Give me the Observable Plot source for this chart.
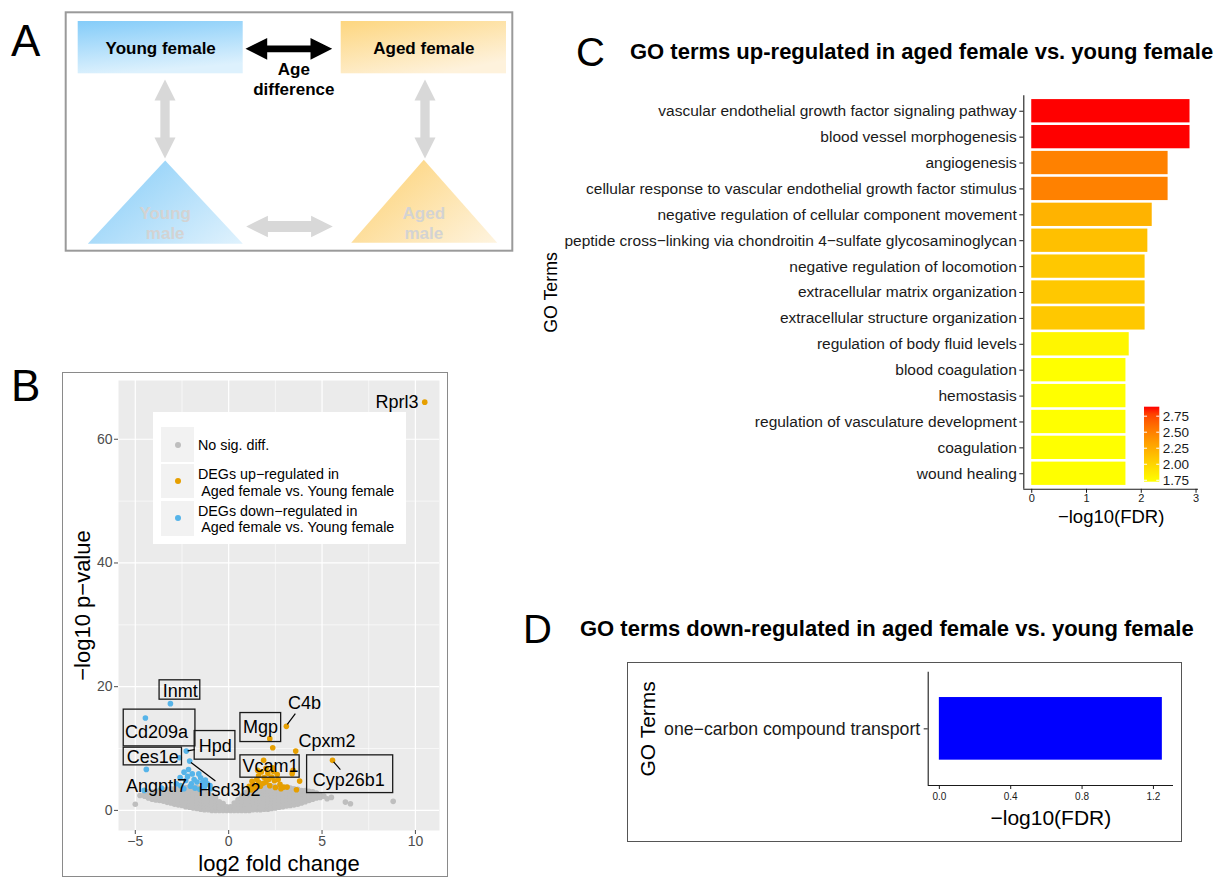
<!DOCTYPE html>
<html><head><meta charset="utf-8">
<script src="https://cdn.jsdelivr.net/npm/d3@7"></script>
<script src="https://cdn.jsdelivr.net/npm/@observablehq/plot@0.6"></script>
<style>
body{margin:0;background:#fff;}
#root{position:relative;width:1222px;height:878px;overflow:hidden;font-family:"Liberation Sans",Arial,sans-serif;color:#000;}
.letter{position:absolute;line-height:1;color:#000;}
.title{position:absolute;font-size:22px;font-weight:bold;line-height:22px;white-space:nowrap;}
.lg{position:absolute;font-size:14.3px;line-height:16.7px;white-space:pre;color:#000;}
.key{position:absolute;left:8px;width:33px;background:#F2F2F2;}
.key i{position:absolute;left:13.5px;width:6px;height:6px;border-radius:50%;}
</style></head><body><div id="root"></div>
<script>
// ---------------- DATA ----------------
// Panel C: GO terms up-regulated
const upTerms = [
 "vascular endothelial growth factor signaling pathway",
 "blood vessel morphogenesis",
 "angiogenesis",
 "cellular response to vascular endothelial growth factor stimulus",
 "negative regulation of cellular component movement",
 "peptide cross\u2212linking via chondroitin 4\u2212sulfate glycosaminoglycan",
 "negative regulation of locomotion",
 "extracellular matrix organization",
 "extracellular structure organization",
 "regulation of body fluid levels",
 "blood coagulation",
 "hemostasis",
 "regulation of vasculature development",
 "coagulation",
 "wound healing"];
const upFDR = [2.89, 2.89, 2.49, 2.49, 2.20, 2.12, 2.07, 2.07, 2.07, 1.78, 1.72, 1.72, 1.72, 1.72, 1.72];
const upXTicks = [0, 1, 2, 3];
const upLegendTicks = [1.75, 2.00, 2.25, 2.50, 2.75];

// Panel D: GO terms down-regulated
const downTerms = ["one\u2212carbon compound transport"];
const downFDR = [1.25];
const downXTicks = [0, 0.4, 0.8, 1.2];

// Panel B: volcano (log2FC, -log10 p)
const volcXMajor = [-5, 0, 5, 10], volcXMinor = [-2.5, 2.5, 7.5];
const volcYMajor = [0, 20, 40, 60], volcYMinor = [10, 30, 50];
const grayColumns = [
 "-4.5|2.3 2.9", "-4.3|2.0 2.6 3.0", "-4.1|1.8 2.4 3.0", "-3.9|1.7 2.2 2.7 3.1",
 "-3.7|1.6 2.1 2.6 3.2", "-3.5|1.5 2.0 2.5 2.9 3.3", "-3.3|1.3 1.8 2.3 2.8 3.4",
 "-3.1|1.2 1.7 2.2 2.7 3.1 3.5", "-2.9|1.0 1.5 2.0 2.5 3.0 3.5", "-2.7|0.9 1.4 1.9 2.4 2.9 3.3 3.6",
 "-2.5|0.8 1.3 1.8 2.3 2.8 3.2 3.7", "-2.3|0.6 1.1 1.6 2.1 2.6 3.1 3.7",
 "-2.1|0.5 1.0 1.5 2.0 2.5 3.0 3.4 3.8", "-1.9|0.4 0.9 1.4 1.9 2.4 2.9 3.4 3.8",
 "-1.7|0.3 0.8 1.3 1.8 2.3 2.8 3.3 3.7", "-1.5|0.2 0.7 1.2 1.7 2.2 2.7 3.1 3.5",
 "-1.3|0.1 0.6 1.1 1.6 2.1 2.6 3.1", "-1.1|0.1 0.6 1.1 1.6 2.1 2.7",
 "-0.9|0.0 0.5 1.0 1.5 2.0 2.4", "-0.7|0.0 0.5 1.0 1.5 2.0", "-0.5|0.0 0.4 0.9 1.4",
 "-0.3|0.0 0.4 0.8 1.1", "-0.1|0.0 0.3 0.6", "0.1|0.0 0.3 0.6", "0.3|0.0 0.4 0.8 1.2",
 "0.5|0.0 0.4 0.9 1.4 1.7", "0.7|0.0 0.5 1.0 1.5 2.0 2.3", "0.9|0.0 0.5 1.0 1.5 2.0 2.5 2.9",
 "1.1|0.0 0.5 1.0 1.5 2.0 2.5 3.0 3.3", "1.3|0.1 0.6 1.1 1.6 2.1 2.6 3.1 3.5",
 "1.5|0.1 0.6 1.1 1.6 2.1 2.6 3.1 3.6", "1.7|0.1 0.6 1.1 1.6 2.1 2.6 3.1 3.7",
 "1.9|0.2 0.7 1.2 1.7 2.2 2.7 3.2 3.8", "2.1|0.2 0.7 1.2 1.7 2.2 2.7 3.2 3.9",
 "2.3|0.3 0.8 1.3 1.8 2.3 2.8 3.3 3.9", "2.5|0.4 0.9 1.4 1.9 2.4 2.9 3.4 3.8",
 "2.7|0.5 1.0 1.5 2.0 2.5 3.0 3.5 3.8", "2.9|0.6 1.1 1.6 2.1 2.6 3.1 3.7",
 "3.1|0.7 1.2 1.7 2.2 2.7 3.2 3.7", "3.3|0.8 1.3 1.8 2.3 2.8 3.2 3.6",
 "3.5|0.9 1.4 1.9 2.4 2.9 3.5", "3.7|1.0 1.5 2.0 2.5 3.0 3.4", "3.9|1.2 1.7 2.2 2.7 3.2",
 "4.1|1.4 1.9 2.4 2.8 3.2", "4.3|1.6 2.1 2.6 3.1", "4.5|1.8 2.3 2.8 3.0",
 "4.7|2.0 2.5 2.8", "4.9|2.1 2.5", "5.1|2.3"];
const grayOutliers = [[-5.0,1.0],[-4.75,2.4],[5.27,1.89],[5.5,2.1],[6.25,1.34],[6.52,1.08],[8.81,1.46]];
const upGenes = [[10.5,66.0],[3.09,13.59],[2.20,11.6],[2.36,10.14],[3.59,9.59],[5.56,8.09],[3.40,5.94],[3.80,4.74],
 [3.63,3.35],[3.13,3.77],[2.95,3.77],[1.87,8.09],[3.45,6.47],[1.3,4.2],[1.5,5.0],[1.6,5.6],[1.75,6.2],[1.9,5.3],
 [2.0,4.6],[2.1,6.0],[2.3,5.4],[2.45,4.8],[2.6,5.8],[2.2,4.0],[1.4,3.6],[1.7,3.9],[2.5,3.7],[2.75,4.2],[1.2,3.3],
 [2.0,6.8],[1.55,6.5],[2.35,6.9],[1.25,4.7],[1.85,4.4],[2.65,5.0],[1.1,3.9],[2.8,3.5],[1.6,4.6],[2.15,5.0],[1.45,4.0],[2.4,6.3]];
const downGenes = [[-3.12,17.26],[-4.46,14.93],[-2.27,9.59],[-2.64,8.52],[-2.09,7.97],[-4.41,6.63],[-4.52,3.23],
 [-2.39,6.18],[-1.95,5.9],[-1.5,5.27],[-1.14,4.3],[-0.96,3.5],[-2.3,4.84],[-2.57,4.0],[-2.2,5.5],[-1.7,4.6],[-1.3,3.8],
 [-2.0,4.3],[-1.8,3.6],[-2.4,3.5],[-1.55,3.4],[-2.15,6.6],[-1.25,4.9],[-1.85,5.0],[-2.05,3.9],[-1.6,5.9],[-2.6,5.3],
 [-3.6,3.6],[-2.8,4.3],[-1.0,4.0],[-1.4,4.5]];
// gene label annotations (data units)
const geneLabels = [
 {gene:"Inmt", x:-2.59, y:19.3, box:[-3.70,-1.52,21.03,17.90]},
 {gene:"Cd209a", x:-3.86, y:12.6, box:[-5.62,-1.78,16.29,10.35]},
 {gene:"Hpd", x:-0.72, y:10.4, box:[-1.82,0.36,12.83,8.20]},
 {gene:"Ces1e", x:-4.07, y:8.6, box:[-5.62,-2.50,10.14,7.28]},
 {gene:"Angptl7", x:-3.86, y:3.9},
 {gene:"Hsd3b2", x:0.04, y:3.3},
 {gene:"Mgp", x:1.70, y:13.4, box:[0.63,2.81,15.74,11.05]},
 {gene:"C4b", x:4.06, y:17.35},
 {gene:"Cpxm2", x:5.27, y:11.2},
 {gene:"Vcam1", x:2.24, y:7.1, box:[0.63,3.80,8.90,5.29]},
 {gene:"Cyp26b1", x:6.43, y:4.85, box:[4.20,8.81,8.90,2.80]}];
const geneConnectors = [
 {x1:-1.82,y1:9.82,x2:-2.20,y2:9.62},
 {x1:-2.02,y1:7.75,x2:-0.71,y2:4.74},
 {x1:3.14,y1:13.9,x2:3.57,y2:15.64},
 {x1:5.62,y1:7.85,x2:5.98,y2:6.58}];
const topGene = {gene:"Rprl3", x:10.16, y:66.0};

// Panel A diagram (diagram units)
const diagramFrame = {x1:65.7, x2:512.3, y1:12.3, y2:250.7};
const diagramBoxes = [
 {id:"yf", x1:77.7, x2:242.7, y1:21, y2:73.3, fill:"url(#gBlue)"},
 {id:"af", x1:340.7, x2:506, y1:21, y2:73.3, fill:"url(#gOrange)"}];
const diagramTriangles = [
 {id:"ym", pts:[[164.7,160],[242.3,243.3],[87.3,243.3]], fill:"url(#gBlueT)"},
 {id:"am", pts:[[423.3,159.3],[496.7,242.3],[350.7,242.3]], fill:"url(#gOrangeT)"}];
const diagramArrows = [
 {id:"age", x1:245, y1:48.3, x2:331.7, y2:48.3, shaft:6.7, head:21.7, headLen:21.7, color:"#000"},
 {id:"v1", x1:164.5, y1:79, x2:164.5, y2:158, shaft:9.3, head:21, headLen:21, color:"#d8d8d8"},
 {id:"v2", x1:424.5, y1:79, x2:424.5, y2:158, shaft:9.3, head:21, headLen:21, color:"#d8d8d8"},
 {id:"h", x1:245.7, y1:226, x2:332.3, y2:226, shaft:11, head:21.7, headLen:21.7, color:"#d8d8d8"}];
const diagramTexts = [
 {t:"Young female", x:160.2, y:47.8, c:"#000"},
 {t:"Aged female", x:423.3, y:47.8, c:"#000"},
 {t:"Age", x:293.3, y:69.5, c:"#000"},
 {t:"difference", x:293.3, y:89.2, c:"#000"},
 {t:"Young", x:164.7, y:213.3, c:"#d3d3d3"},
 {t:"male", x:164.7, y:233, c:"#d3d3d3"},
 {t:"Aged", x:423.3, y:213.3, c:"#d3d3d3"},
 {t:"male", x:423.3, y:233, c:"#d3d3d3"}];

// ---------------- HELPERS ----------------
const root = document.getElementById("root");
const FONT = '"Liberation Sans", Arial, sans-serif';
const NS = "http://www.w3.org/2000/svg";
function place(svg, left, top) {
  svg.style.position = "absolute"; svg.style.left = left + "px"; svg.style.top = top + "px";
  svg.style.background = "transparent"; svg.style.overflow = "visible"; svg.style.maxWidth = "none";
  svg.style.fontFamily = FONT;
  root.appendChild(svg); return svg;
}
function addDefs(svg, html) {
  const defs = document.createElementNS(NS, "defs"); defs.innerHTML = html;
  svg.insertBefore(defs, svg.firstChild);
}
function div(cls, style, html) {
  const d = document.createElement("div"); if (cls) d.className = cls;
  d.setAttribute("style", style); d.innerHTML = html; root.appendChild(d); return d;
}
const minusFmt = d => d < 0 ? "\u2212" + (-d) : String(d);

// ---------------- PANEL A ----------------
function arrowPolygon(a) {
  const dx = a.x2 - a.x1, dy = a.y2 - a.y1, L = Math.hypot(dx, dy), ux = dx / L, uy = dy / L, nx = -uy, ny = ux;
  const hw = a.head / 2, sw = a.shaft / 2, hl = a.headLen;
  const P = (t, s) => ({id: a.id, x: a.x1 + ux * t + nx * s, y: a.y1 + uy * t + ny * s});
  return [P(0,0),P(hl,hw),P(hl,sw),P(L-hl,sw),P(L-hl,hw),P(L,0),P(L-hl,-hw),P(L-hl,-sw),P(hl,-sw),P(hl,-hw)];
}
const plotA = Plot.plot({
  width: 520, height: 260, margin: 0,
  x: {domain: [0, 520], range: [0, 520], axis: null},
  y: {domain: [0, 260], range: [0, 260], axis: null},
  marks: [
    Plot.rect([diagramFrame], {x1: "x1", x2: "x2", y1: "y1", y2: "y2", fill: "white", stroke: "#9a9a9a", strokeWidth: 2}),
    ...diagramBoxes.map(b => Plot.rect([b], {x1: "x1", x2: "x2", y1: "y1", y2: "y2", fill: b.fill})),
    ...diagramTriangles.map(t => Plot.line(t.pts, {x: d => d[0], y: d => d[1], fill: t.fill, stroke: "none", curve: "linear-closed"})),
    ...diagramArrows.map(a => Plot.line(arrowPolygon(a), {x: "x", y: "y", fill: a.color, stroke: "none", curve: "linear-closed"})),
    Plot.text(diagramTexts, {x: "x", y: "y", text: "t", fill: "c", fontSize: 17, fontWeight: "bold", lineAnchor: "middle"})
  ]
});
addDefs(plotA, `
 <linearGradient id="gBlue" x1="0" y1="0" x2="0.25" y2="1"><stop offset="0" stop-color="#84CCF9"/><stop offset="1" stop-color="#DDF1FD"/></linearGradient>
 <linearGradient id="gOrange" x1="0" y1="0" x2="0.6" y2="1"><stop offset="0" stop-color="#FDD67F"/><stop offset="1" stop-color="#FEF2DC"/></linearGradient>
 <linearGradient id="gBlueT" x1="0" y1="0.3" x2="1" y2="1"><stop offset="0" stop-color="#8FD0F8"/><stop offset="1" stop-color="#E0F2FD"/></linearGradient>
 <linearGradient id="gOrangeT" x1="0" y1="0.3" x2="1" y2="1"><stop offset="0" stop-color="#FDD47C"/><stop offset="1" stop-color="#FEF4E0"/></linearGradient>`);
place(plotA, 0, 0);

// ---------------- PANEL B ----------------
const grayPts = [];
for (const col of grayColumns) {
  const [xs, ys] = col.split("|");
  for (const y of ys.split(" ")) grayPts.push([+xs, +y]);
}
for (const p of grayOutliers) grayPts.push(p);

div("", "position:absolute;left:62px;top:372px;width:386px;height:505px;box-sizing:border-box;border:1.5px solid #8a8a8a;", "");
const plotB = Plot.plot({
  width: 389, height: 508, marginLeft: 58, marginRight: 10, marginTop: 10, marginBottom: 48,
  x: {domain: [-5.9, 11.29], label: null},
  y: {domain: [-3.25, 69.5], label: null},
  marks: [
    Plot.frame({fill: "#EBEBEB", stroke: "none"}),
    Plot.ruleX(volcXMinor, {stroke: "white", strokeWidth: 0.6}),
    Plot.ruleY(volcYMinor, {stroke: "white", strokeWidth: 0.6}),
    Plot.ruleX(volcXMajor, {stroke: "white", strokeWidth: 1.2}),
    Plot.ruleY(volcYMajor, {stroke: "white", strokeWidth: 1.2}),
    Plot.dot(grayPts, {x: d => d[0], y: d => d[1], r: 2.8, fill: "#BEBEBE"}),
    Plot.dot(upGenes, {x: d => d[0], y: d => d[1], r: 2.8, fill: "#E69F00"}),
    Plot.dot(downGenes, {x: d => d[0], y: d => d[1], r: 2.8, fill: "#56B4E9"}),
    Plot.rect(geneLabels.filter(d => d.box), {x1: d => d.box[0], x2: d => d.box[1], y1: d => d.box[2], y2: d => d.box[3], fill: "none", stroke: "#1a1a1a", strokeWidth: 1.3}),
    Plot.link(geneConnectors, {x1: "x1", y1: "y1", x2: "x2", y2: "y2", stroke: "#000", strokeWidth: 1.2}),
    Plot.text(geneLabels, {x: "x", y: "y", text: "gene", fontSize: 18, fill: "#000", lineAnchor: "middle"}),
    Plot.text([topGene], {x: "x", y: "y", text: "gene", fontSize: 18, fill: "#000", textAnchor: "end", lineAnchor: "middle"}),
    Plot.axisX({ticks: volcXMajor, tickFormat: minusFmt, tickSize: 4, tickPadding: 2, fontSize: 14, color: "#4d4d4d", label: null}),
    Plot.axisY({ticks: volcYMajor, tickFormat: minusFmt, tickSize: 4, tickPadding: 2, fontSize: 14, color: "#4d4d4d", label: null}),
    Plot.text(["log2 fold change"], {frameAnchor: "bottom", dy: 33, fontSize: 22, fill: "#000", textAnchor: "middle", lineAnchor: "middle"}),
    Plot.text(["\u2212log10 p\u2212value"], {frameAnchor: "left", dx: -36, rotate: -90, fontSize: 22, fill: "#000", textAnchor: "middle", lineAnchor: "middle"})
  ]
});
place(plotB, 60, 370);
// legend of panel B
div("", "position:absolute;left:153px;top:412px;width:253px;height:132px;background:#fff;", `
 <div class="key" style="top:15px;height:35px;"><i style="top:14.5px;background:#BEBEBE"></i></div>
 <div class="key" style="top:52px;height:34px;"><i style="top:14px;background:#E69F00"></i></div>
 <div class="key" style="top:88.7px;height:35px;"><i style="top:14.5px;background:#56B4E9"></i></div>
 <div class="lg" style="left:45px;top:24.6px;">No sig. diff.</div>
 <div class="lg" style="left:45px;top:54px;">DEGs up\u2212regulated in\n Aged female vs. Young female</div>
 <div class="lg" style="left:45px;top:90.7px;">DEGs down\u2212regulated in\n Aged female vs. Young female</div>`);

// ---------------- PANEL C ----------------
const upData = upTerms.map((t, i) => ({term: t, fdr: upFDR[i], i}));
const upColor = {type: "linear", domain: [d3.min(upFDR), d3.max(upFDR)], range: ["yellow", "red"], interpolate: "lab"};
const plotC = Plot.plot({
  width: 680, height: 460, marginLeft: 483.3, marginRight: 22, marginTop: 15.2, marginBottom: 51.2,
  x: {domain: [-0.145, 3.045], label: null},
  y: {domain: [upTerms.length - 0.4, -0.6], label: null},
  color: upColor,
  marks: [
    Plot.rect(upData, {x1: 0, x2: "fdr", y1: d => d.i - 0.45, y2: d => d.i + 0.45, fill: "fdr"}),
    Plot.ruleX([-0.145], {stroke: "#1a1a1a", strokeWidth: 1.1}),
    Plot.ruleY([upTerms.length - 0.4], {stroke: "#1a1a1a", strokeWidth: 1.1}),
    Plot.axisY({ticks: upData.map(d => d.i), tickFormat: i => upTerms[i], tickSize: 4, tickPadding: 3, fontSize: 15.5, color: "#1a1a1a", label: null}),
    Plot.axisX({ticks: upXTicks, tickFormat: d => String(d), tickSize: 4, tickPadding: 1, fontSize: 11, color: "#1a1a1a", label: null}),
    Plot.text(["\u2212log10(FDR)"], {frameAnchor: "bottom", dy: 28, fontSize: 18.5, fill: "#000", textAnchor: "middle", lineAnchor: "middle"}),
    Plot.text(["GO Terms"], {frameAnchor: "left", dx: -472.8, rotate: -90, fontSize: 17.8, fill: "#000", textAnchor: "middle", lineAnchor: "middle"})
  ]
});
place(plotC, 540, 80);
// colour bar legend
const cScale = plotC.scale("color");
const [cMin, cMax] = upColor.domain;
const stops = d3.range(0, 1.0001, 0.1).map(t => `<stop offset="${t}" stop-color="${cScale.apply(cMin + t * (cMax - cMin))}"/>`).join("");
const plotCL = Plot.plot({
  width: 80, height: 96, marginLeft: 14, marginRight: 50.7, marginTop: 10.7, marginBottom: 10.3,
  x: {domain: [0, 1], axis: null},
  y: {domain: [cMin, cMax], label: null},
  marks: [
    Plot.rect([0], {x1: 0, x2: 1, y1: cMin, y2: cMax, fill: "url(#cbGrad)"}),
    Plot.ruleY(upLegendTicks, {x1: 0, x2: 0.2, stroke: "white", strokeWidth: 1}),
    Plot.ruleY(upLegendTicks, {x1: 0.8, x2: 1, stroke: "white", strokeWidth: 1}),
    Plot.axisY({anchor: "right", ticks: upLegendTicks, tickFormat: d => d.toFixed(2), tickSize: 0, tickPadding: 3, fontSize: 13.5, color: "#1a1a1a", label: null})
  ]
});
addDefs(plotCL, `<linearGradient id="cbGrad" x1="0" y1="1" x2="0" y2="0">${stops}</linearGradient>`);
place(plotCL, 1130, 396);

// ---------------- PANEL D ----------------
div("", "position:absolute;left:627px;top:662px;width:555px;height:180px;box-sizing:border-box;border:1.5px solid #555;", "");
const downData = downTerms.map((t, i) => ({term: t, fdr: downFDR[i], i}));
const plotD = Plot.plot({
  width: 555, height: 179, marginLeft: 300.7, marginRight: 9, marginTop: 8.7, marginBottom: 57,
  x: {domain: [-0.0625, 1.3125], label: null},
  y: {domain: [0.814, -0.814], label: null},
  marks: [
    Plot.rect(downData, {x1: 0, x2: "fdr", y1: d => d.i - 0.45, y2: d => d.i + 0.45, fill: "#0000FF"}),
    Plot.ruleX([-0.0625], {stroke: "#1a1a1a", strokeWidth: 1.1}),
    Plot.ruleY([0.814], {stroke: "#1a1a1a", strokeWidth: 1.1}),
    Plot.axisY({ticks: downData.map(d => d.i), tickFormat: i => downTerms[i], tickSize: 4, tickPadding: 4, fontSize: 17.7, color: "#1a1a1a", label: null}),
    Plot.axisX({ticks: downXTicks, tickFormat: d => d.toFixed(1), tickSize: 4, tickPadding: 3, fontSize: 10, color: "#1a1a1a", label: null}),
    Plot.text(["\u2212log10(FDR)"], {frameAnchor: "bottom", dy: 33, fontSize: 21, fill: "#000", textAnchor: "middle", lineAnchor: "middle"}),
    Plot.text(["GO Terms"], {frameAnchor: "left", dx: -280, rotate: -90, fontSize: 21, fill: "#000", textAnchor: "middle", lineAnchor: "middle"})
  ]
});
place(plotD, 627, 663);

// ---------------- LETTERS & TITLES ----------------
div("letter", "left:11px;top:18.7px;font-size:44px;", "A");
div("letter", "left:11px;top:363.7px;font-size:44px;", "B");
div("letter", "left:576px;top:32px;font-size:40px;", "C");
div("letter", "left:523px;top:609px;font-size:40px;", "D");
div("title", "left:630px;top:41.4px;", "GO terms up-regulated in aged female vs. young female");
div("title", "left:580px;top:618.4px;", "GO terms down-regulated in aged female vs. young female");
</script></body></html>
